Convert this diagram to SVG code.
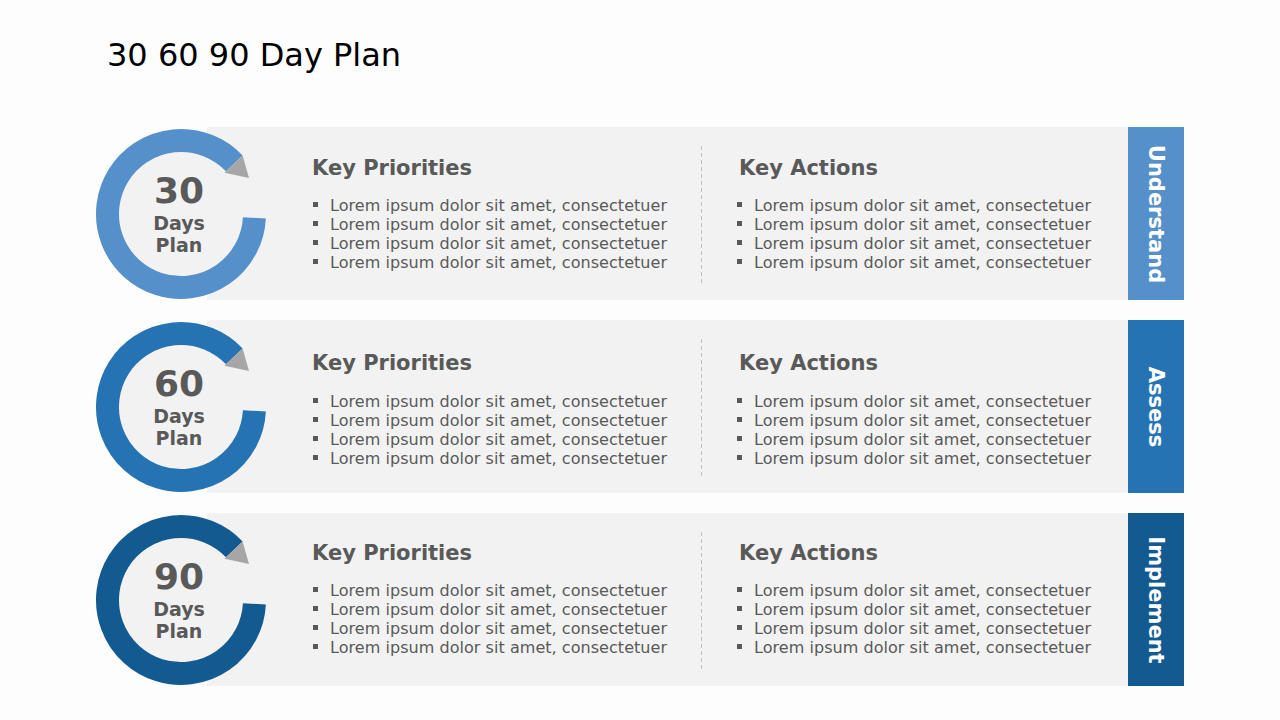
<svg xmlns="http://www.w3.org/2000/svg" width="1280" height="720" viewBox="0 0 1280 720">
<defs>
<style>
.panel{fill:#F2F2F2}
.title{font-family:"DejaVu Sans",Verdana,sans-serif;font-size:32px;fill:#000}
.head{font-family:"DejaVu Sans",Verdana,sans-serif;font-size:21px;font-weight:bold;fill:#595959}
.item{font-family:"DejaVu Sans",Verdana,sans-serif;font-size:16px;fill:#595959}
.bul{fill:#595959}
.num{font-family:"DejaVu Sans",Verdana,sans-serif;font-size:36px;font-weight:bold;fill:#595959;text-anchor:middle}
.sub{font-family:"DejaVu Sans",Verdana,sans-serif;font-size:19px;font-weight:bold;fill:#595959;text-anchor:middle}
.tab{font-family:"DejaVu Sans",Verdana,sans-serif;font-size:21px;font-weight:bold;fill:#FFFFFF;text-anchor:middle}
.div{stroke:#BFBFBF;stroke-width:1;stroke-dasharray:4 3;fill:none}
.arrow{fill:#A6A6A6}
</style>
<g id="lists">
<rect class="bul" x="313" y="202" width="5" height="5"/>
<text class="item" x="330" y="211" textLength="337">Lorem ipsum dolor sit amet, consectetuer</text>
<rect class="bul" x="313" y="221" width="5" height="5"/>
<text class="item" x="330" y="230" textLength="337">Lorem ipsum dolor sit amet, consectetuer</text>
<rect class="bul" x="313" y="240" width="5" height="5"/>
<text class="item" x="330" y="249" textLength="337">Lorem ipsum dolor sit amet, consectetuer</text>
<rect class="bul" x="313" y="259" width="5" height="5"/>
<text class="item" x="330" y="268" textLength="337">Lorem ipsum dolor sit amet, consectetuer</text>
<rect class="bul" x="737" y="202" width="5" height="5"/>
<text class="item" x="754" y="211" textLength="337">Lorem ipsum dolor sit amet, consectetuer</text>
<rect class="bul" x="737" y="221" width="5" height="5"/>
<text class="item" x="754" y="230" textLength="337">Lorem ipsum dolor sit amet, consectetuer</text>
<rect class="bul" x="737" y="240" width="5" height="5"/>
<text class="item" x="754" y="249" textLength="337">Lorem ipsum dolor sit amet, consectetuer</text>
<rect class="bul" x="737" y="259" width="5" height="5"/>
<text class="item" x="754" y="268" textLength="337">Lorem ipsum dolor sit amet, consectetuer</text>
</g>
</defs>
<rect x="0" y="0" width="1280" height="720" fill="#FDFDFD"/>
<text class="title" x="107" y="66">30 60 90 Day Plan</text>

<g id="row-30">
<rect class="panel" x="207" y="127" width="921" height="173"/>
<circle cx="181" cy="214" r="80" fill="#F2F2F2"/>
<path d="M 254.4 217.8 A 73.5 73.5 0 1 1 234.3 163.4" fill="none" stroke="#5590CA" stroke-width="23"/>
<polygon class="arrow" points="242.6,155.5 224.5,172.7 249,178"/>
<text class="num" x="179" y="203">30</text>
<text class="sub" x="179" y="230">Days</text>
<text class="sub" x="179" y="252">Plan</text>
<text class="head" x="312" y="175">Key Priorities</text>
<text class="head" x="739" y="175">Key Actions</text>
<line class="div" x1="701.5" y1="146" x2="701.5" y2="283"/>
<use href="#lists"/>
<rect x="1128" y="127" width="56" height="173" fill="#5590CA"/>
<text class="tab" transform="translate(1149,214) rotate(90)">Understand</text>
</g>

<g id="row-60">
<rect class="panel" x="207" y="320" width="921" height="173"/>
<circle cx="181" cy="407" r="80" fill="#F2F2F2"/>
<path d="M 254.4 410.8 A 73.5 73.5 0 1 1 234.3 356.4" fill="none" stroke="#2673B3" stroke-width="23"/>
<polygon class="arrow" points="242.6,348.5 224.5,365.7 249,371"/>
<text class="num" x="179" y="396">60</text>
<text class="sub" x="179" y="423">Days</text>
<text class="sub" x="179" y="445">Plan</text>
<text class="head" x="312" y="370">Key Priorities</text>
<text class="head" x="739" y="370">Key Actions</text>
<line class="div" x1="701.5" y1="339" x2="701.5" y2="476"/>
<use href="#lists" transform="translate(0,196)"/>
<rect x="1128" y="320" width="56" height="173" fill="#2673B3"/>
<text class="tab" transform="translate(1149,407) rotate(90)">Assess</text>
</g>

<g id="row-90">
<rect class="panel" x="207" y="513" width="921" height="173"/>
<circle cx="181" cy="600" r="80" fill="#F2F2F2"/>
<path d="M 254.4 603.8 A 73.5 73.5 0 1 1 234.3 549.4" fill="none" stroke="#135A90" stroke-width="23"/>
<polygon class="arrow" points="242.6,541.5 224.5,558.7 249,564"/>
<text class="num" x="179" y="589">90</text>
<text class="sub" x="179" y="616">Days</text>
<text class="sub" x="179" y="638">Plan</text>
<text class="head" x="312" y="560">Key Priorities</text>
<text class="head" x="739" y="560">Key Actions</text>
<line class="div" x1="701.5" y1="532" x2="701.5" y2="669"/>
<use href="#lists" transform="translate(0,385)"/>
<rect x="1128" y="513" width="56" height="173" fill="#135A90"/>
<text class="tab" transform="translate(1149,600) rotate(90)">Implement</text>
</g>
</svg>
